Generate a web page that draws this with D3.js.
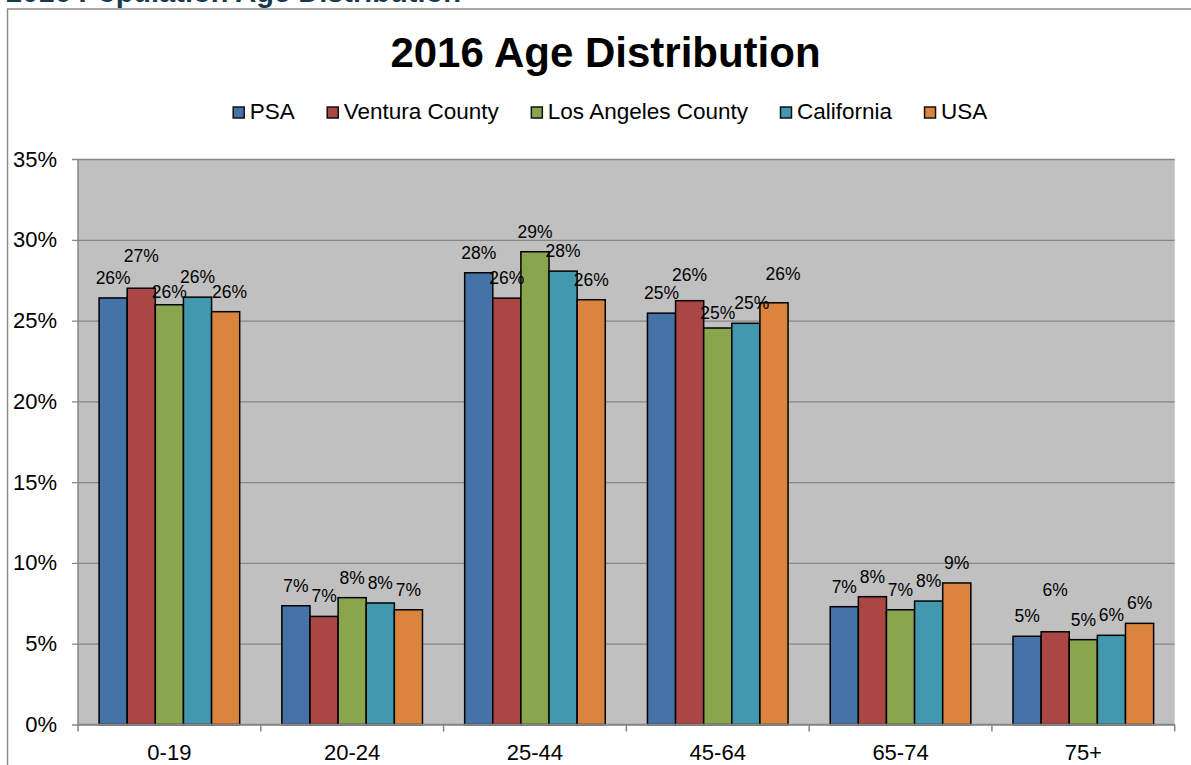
<!DOCTYPE html>
<html lang="en">
<head>
    <meta charset="UTF-8">
    <script src="https://d3js.org/d3.v7.min.js"></script>
    <title>2016 Age Distribution</title>
    <style>
        body { margin: 0; background: #fff; }
        svg { display: block; font-family: "Liberation Sans", Arial, sans-serif; }
    </style>
</head>
<body>
    <svg width="1191" height="765" id="chart"></svg>
    <script>

        // data (percent of population)
        const ageGroups = ["0-19", "20-24", "25-44", "45-64", "65-74", "75+"];
        const seriesNames = ["PSA", "Ventura County", "Los Angeles County", "California", "USA"];
        const psa        = [26.4, 7.35, 27.96, 25.46, 7.29, 5.46];
        const ventura    = [27.0, 6.69, 26.39, 26.23, 7.91, 5.74];
        const losAngeles = [25.98, 7.85, 29.26, 24.54, 7.1, 5.25];
        const california = [26.45, 7.52, 28.06, 24.83, 7.64, 5.52];
        const usa        = [25.55, 7.1, 26.29, 26.1, 8.76, 6.26];
        const yTicks = [0, 5, 10, 15, 20, 25, 30, 35];

        const seriesValues = [psa, ventura, losAngeles, california, usa];
        const colors = ["#4572A7", "#AA4643", "#89A54E", "#4198AF", "#DB843D"];

        // a few labels sit off their usual spot in the original: [group, series, dx, dy]
        const labelNudge = [[0, 1, 0, -12], [0, 2, 0, 7], [0, 4, 4, 0],
                            [3, 1, 0, -6], [3, 2, 0, 5], [3, 3, 6, 0], [3, 4, 9, -9],
                            [5, 1, 0, -22]];

        const svg = d3.select("#chart");

        const plotL = 78, plotR = 1174.7, plotT = 159, plotB = 724.5;

        // outer chart frame (only top and left show)
        svg.append("path")
            .attr("d", "M7.5,765 V9 H1191")
            .attr("fill", "none")
            .attr("stroke", "#8c8c8c")
            .attr("stroke-width", 1.5);

        // page heading, cut off at the top
        svg.append("text")
            .attr("x", 6)
            .attr("y", 2)
            .attr("fill", "#173A4E")
            .attr("style", "font-weight: bold; font-size: 29px;")
            .text("2016 Population Age Distribution");

        // title
        svg.append("text")
            .attr("x", 605.5)
            .attr("y", 66.7)
            .attr("text-anchor", "middle")
            .attr("style", "font-weight: bold; font-size: 42px;")
            .text("2016 Age Distribution");

        // legend
        const legend = svg.append("g");
        let lx = 0;
        seriesNames.forEach((name, i) => {
            let item = legend.append("g").attr("transform", `translate(${lx},0)`);
            item.append("rect")
                .attr("x", 0.5).attr("y", -11.5)
                .attr("width", 11).attr("height", 11)
                .attr("fill", colors[i])
                .attr("stroke", "#111").attr("stroke-width", 1.5);
            let t = item.append("text")
                .attr("x", 17).attr("y", 0)
                .attr("style", "font-size: 22.5px;")
                .text(name);
            lx += 17 + t.node().getComputedTextLength() + 32;
        });
        lx -= 32;
        legend.attr("transform", `translate(${610 - lx / 2},118.5)`);

        // scales
        const x0 = d3.scaleBand()
            .domain(ageGroups)
            .range([plotL, plotR])
            .paddingInner(1.5 / 6.5)
            .paddingOuter(0.75 / 6.5);
        const x1 = d3.scaleBand()
            .domain(seriesNames)
            .range([0, x0.bandwidth()]);
        const y = d3.scaleLinear()
            .domain([0, 35])
            .range([plotB, plotT]);

        // plot area
        svg.append("rect")
            .attr("x", plotL).attr("y", plotT)
            .attr("width", plotR - plotL).attr("height", plotB - plotT)
            .attr("fill", "#C0C0C0");

        // y axis with gridlines
        const yAxis = svg.append("g")
            .attr("transform", `translate(${plotL},0)`)
            .call(d3.axisLeft(y)
                .tickValues(yTicks)
                .tickSize(-(plotR - plotL))
                .tickPadding(21)
                .tickFormat(d => d + "%"));
        yAxis.select(".domain").remove();
        yAxis.selectAll(".tick line")
            .attr("x1", -6)
            .attr("stroke", "#868686")
            .attr("stroke-width", 1.3);
        yAxis.selectAll(".tick text")
            .attr("fill", "#000")
            .attr("style", "font-size: 22px; font-family: 'Liberation Sans', Arial, sans-serif;");

        // bars
        const groups = svg.selectAll(".group")
            .data(ageGroups)
            .join("g")
            .attr("class", "group")
            .attr("transform", d => `translate(${x0(d)},0)`);

        groups.selectAll("rect")
            .data((d, gi) => seriesNames.map((s, si) => ({ s, si, gi, v: seriesValues[si][gi] })))
            .join("rect")
            .attr("x", d => x1(d.s))
            .attr("y", d => y(d.v))
            .attr("width", x1.bandwidth())
            .attr("height", d => plotB - y(d.v))
            .attr("fill", d => colors[d.si])
            .attr("stroke", "#000")
            .attr("stroke-width", 1.5);

        // value labels
        groups.selectAll(".lbl")
            .data((d, gi) => seriesNames.map((s, si) => ({ s, si, gi, v: seriesValues[si][gi] })))
            .join("text")
            .attr("class", "lbl")
            .attr("x", d => {
                let n = labelNudge.find(k => k[0] === d.gi && k[1] === d.si);
                return x1(d.s) + x1.bandwidth() / 2 + (n ? n[2] : 0);
            })
            .attr("y", d => {
                let n = labelNudge.find(k => k[0] === d.gi && k[1] === d.si);
                return y(d.v) - 14 + (n ? n[3] : 0);
            })
            .attr("text-anchor", "middle")
            .attr("style", "font-size: 17.5px;")
            .text(d => Math.round(d.v) + "%");

        // axis lines
        svg.append("line")
            .attr("x1", plotL).attr("x2", plotL)
            .attr("y1", plotT).attr("y2", plotB)
            .attr("stroke", "#868686").attr("stroke-width", 1.5);
        svg.append("line")
            .attr("x1", plotL).attr("x2", plotR)
            .attr("y1", plotB).attr("y2", plotB)
            .attr("stroke", "#868686").attr("stroke-width", 1.5);

        // category boundary ticks
        const step = x0.step();
        for (let i = 0; i <= ageGroups.length; i++) {
            svg.append("line")
                .attr("x1", plotL + i * step).attr("x2", plotL + i * step)
                .attr("y1", plotB).attr("y2", plotB + 7)
                .attr("stroke", "#868686").attr("stroke-width", 1.5);
        }

        // category labels
        svg.selectAll(".xl")
            .data(ageGroups)
            .join("text")
            .attr("class", "xl")
            .attr("x", d => x0(d) + x0.bandwidth() / 2)
            .attr("y", 760)
            .attr("text-anchor", "middle")
            .attr("style", "font-size: 22px;")
            .text(d => d);

    </script>
</body>
</html>
